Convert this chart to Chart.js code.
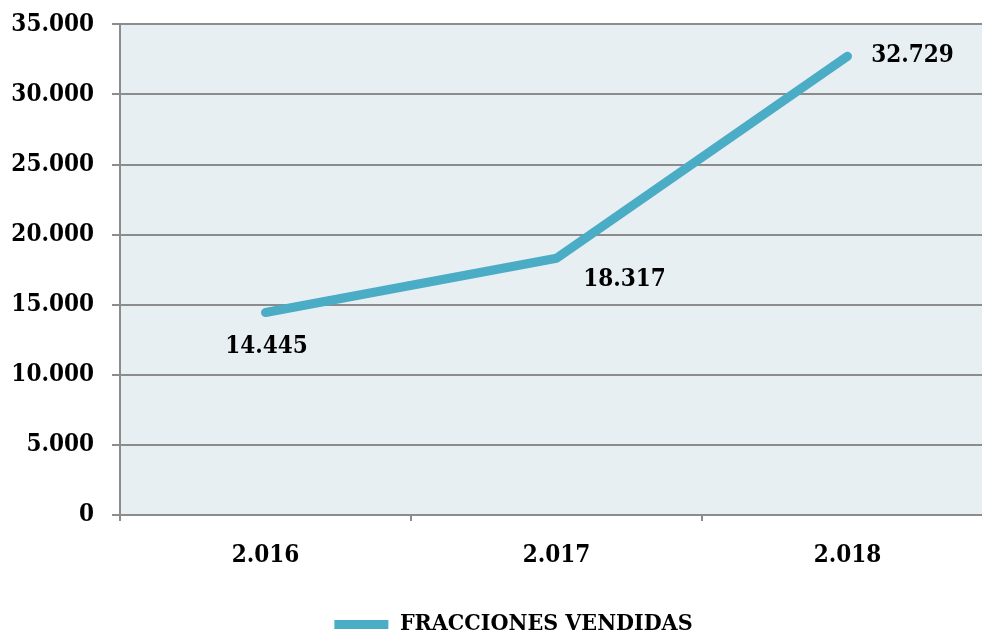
<!DOCTYPE html>
<html>
<head>
<meta charset="utf-8">
<script src="https://cdn.jsdelivr.net/npm/chart.js@4"></script>
<style>
    html, body { margin: 0; padding: 0; background: #ffffff; overflow: hidden; }
    #wrap { width: 1028px; height: 643px; margin-top: -8px; }
</style>
</head>
<body>
<div id="wrap"><canvas id="ventasChart" width="1028" height="643"></canvas></div>
<script>
    const years = ['2.016', '2.017', '2.018'];
    const fracciones = [14445, 18317, 32729];
    const yTicks = [0, 5000, 10000, 15000, 20000, 25000, 30000, 35000];
    const seriesName = 'FRACCIONES VENDIDAS';

    const FONT = "'DejaVu Serif Condensed', 'DejaVu Serif', serif";
    const LINE_COLOR = '#4bacc6';

    function fmt(n) {
        return String(n).replace(/\B(?=(\d{3})+(?!\d))/g, '.');
    }

    // fondo del area del grafico
    const plotBackground = {
        id: 'plotBackground',
        beforeDraw(chart) {
            const {ctx, chartArea} = chart;
            ctx.save();
            ctx.fillStyle = '#e8eff3';
            ctx.fillRect(chartArea.left, chartArea.top, chartArea.right - chartArea.left, chartArea.bottom - chartArea.top);
            ctx.restore();
        }
    };

    // la leyenda queda algo a la derecha en el original
    const legendShift = {
        id: 'legendShift',
        afterLayout(chart) {
            chart.legend.left += 17;
            chart.legend.right += 17;
        }
    };

    // etiquetas de valores junto a cada punto
    const labelOffsets = [[1, 34], [68, 22], [65, 0]];
    const valueLabels = {
        id: 'valueLabels',
        afterDatasetsDraw(chart) {
            const ctx = chart.ctx;
            const meta = chart.getDatasetMeta(0);
            ctx.save();
            ctx.font = 'bold 24px ' + FONT;
            ctx.fillStyle = '#000000';
            ctx.textAlign = 'center';
            ctx.textBaseline = 'middle';
            meta.data.forEach((pt, i) => {
                ctx.fillText(fmt(fracciones[i]), pt.x + labelOffsets[i][0], pt.y + labelOffsets[i][1]);
            });
            ctx.restore();
        }
    };

    const chart = new Chart(document.getElementById('ventasChart'), {
        type: 'line',
        data: {
            labels: years,
            datasets: [{
                label: seriesName,
                data: fracciones,
                borderColor: LINE_COLOR,
                backgroundColor: LINE_COLOR,
                borderWidth: 9,
                borderCapStyle: 'round',
                borderJoinStyle: 'round',
                pointRadius: 0,
                pointHoverRadius: 0,
                tension: 0,
                fill: false
            }]
        },
        options: {
            responsive: false,
            animation: false,
            layout: {
                autoPadding: false,
                padding: {top: 0, left: 0, right: 35, bottom: -11}
            },
            scales: {
                x: {
                    offset: true,
                    grid: {
                        offset: true,
                        drawOnChartArea: false,
                        drawTicks: true,
                        tickLength: 6,
                        color: '#8c8c8c',
                        lineWidth: 2
                    },
                    border: {display: true, color: '#8c8c8c', width: 2},
                    ticks: {
                        color: '#000000',
                        padding: 20,
                        font: {family: FONT, size: 24, weight: 'bold'}
                    },
                    afterFit(scale) {
                        scale.height = 94;
                    }
                },
                y: {
                    min: 0,
                    max: 35000,
                    afterBuildTicks(scale) {
                        scale.ticks = yTicks.map(v => ({value: v}));
                    },
                    grid: {
                        color: '#8c8c8c',
                        lineWidth: 2,
                        tickLength: 8
                    },
                    border: {display: true, color: '#8c8c8c', width: 2},
                    ticks: {
                        color: '#000000',
                        padding: 18,
                        font: {family: FONT, size: 24, weight: 'bold'},
                        callback: value => fmt(value)
                    },
                    afterFit(scale) {
                        scale.width = 120;
                    }
                }
            },
            plugins: {
                legend: {
                    position: 'bottom',
                    labels: {
                        usePointStyle: true,
                        pointStyle: 'line',
                        pointStyleWidth: 54,
                        color: '#000000',
                        padding: 4,
                        font: {family: FONT, size: 23, weight: 'bold'}
                    }
                },
                tooltip: {enabled: false}
            }
        },
        plugins: [plotBackground, legendShift, valueLabels]
    });
</script>
</body>
</html>
